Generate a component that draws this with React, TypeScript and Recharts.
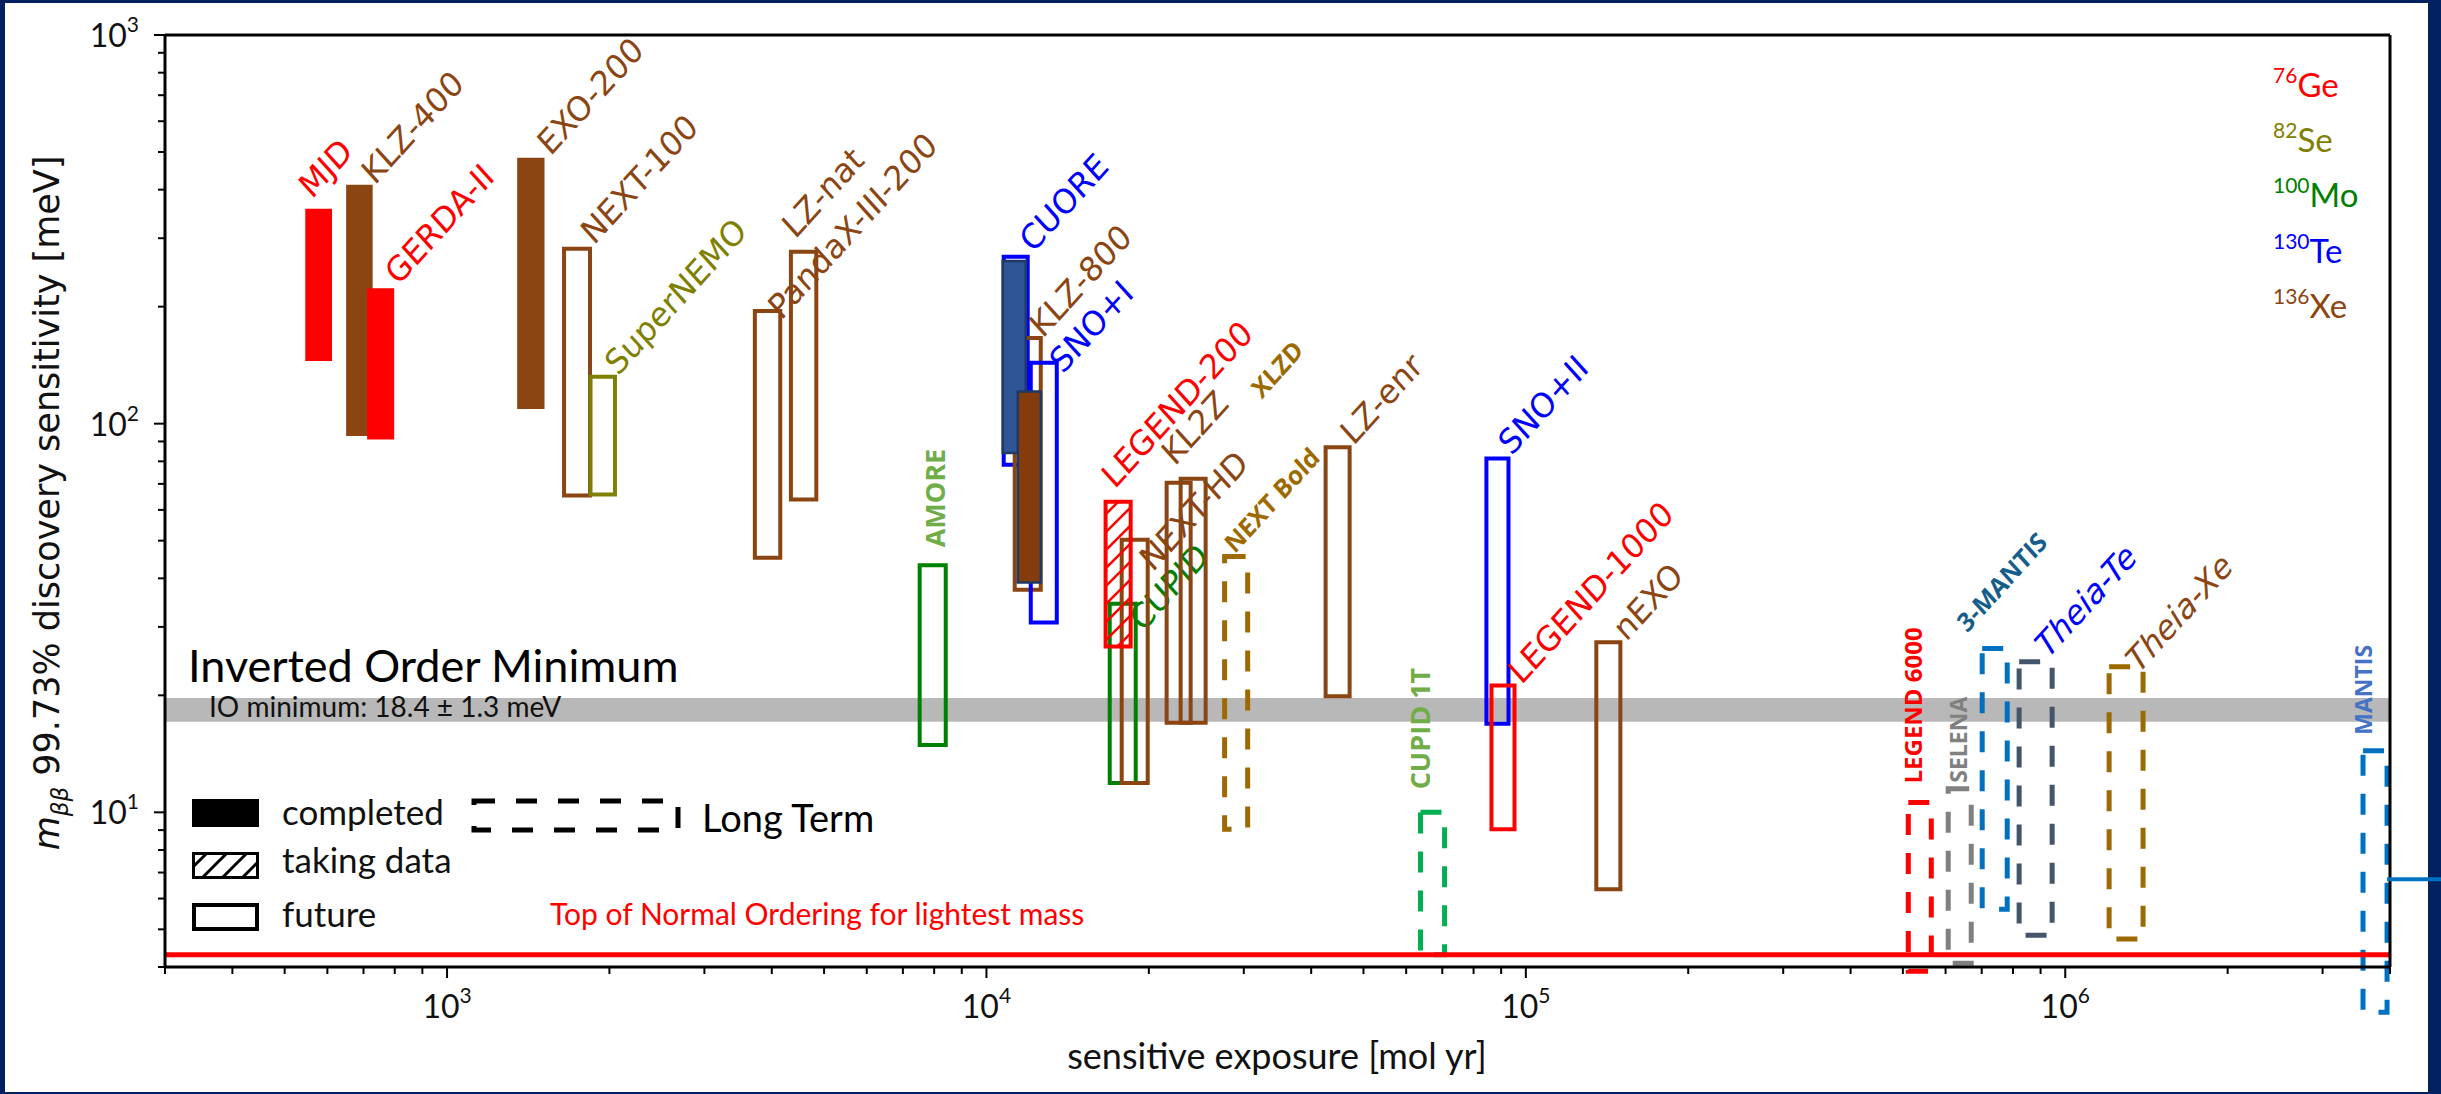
import React from "react";
import { ComposedChart, XAxis, YAxis, ReferenceArea, ReferenceLine } from "recharts";

const W = 2441;
const H = 1094;
const NAVY = "#002060";
const LABEL_FONT = "'DejaVu Sans', sans-serif";
const NOTE_FONT = "Lato, 'Open Sans', sans-serif";
const BOLD_FONT = "'Open Sans', 'Liberation Sans', sans-serif";

type Iso = "Ge" | "Se" | "Mo" | "Te" | "Xe";
interface Experiment {
  name: string;
  iso: Iso;
  lo: number; // exposure range [mol yr]
  hi: number;
  mLo: number; // sensitivity range [meV]
  mHi: number;
}

// finished experiments
const completed: Experiment[] = [
  { name: "MJD", iso: "Ge", lo: 546, hi: 612, mLo: 145, mHi: 357 },
  { name: "KLZ-400", iso: "Xe", lo: 650, hi: 728, mLo: 93, mHi: 412 },
  { name: "GERDA-II", iso: "Ge", lo: 711, hi: 798, mLo: 91, mHi: 223 },
  { name: "EXO-200", iso: "Xe", lo: 1349, hi: 1516, mLo: 109, mHi: 483 },
];

// final results, drawn on top of their projections
const finalResults: Experiment[] = [
  { name: "CUORE", iso: "Te", lo: 10720, hi: 11830, mLo: 84, mHi: 262 },
  { name: "KLZ-800", iso: "Xe", lo: 11430, hi: 12610, mLo: 39, mHi: 121 },
];

const takingData: Experiment[] = [
  { name: "LEGEND-200", iso: "Ge", lo: 16630, hi: 18510, mLo: 26.7, mHi: 63 },
];

const future: Experiment[] = [
  { name: "NEXT-100", iso: "Xe", lo: 1648, hi: 1841, mLo: 65.3, mHi: 282 },
  { name: "SuperNEMO", iso: "Se", lo: 1845, hi: 2048, mLo: 65.7, mHi: 132 },
  { name: "PandaX-III-200", iso: "Xe", lo: 3721, hi: 4147, mLo: 45.2, mHi: 195 },
  { name: "LZ-nat", iso: "Xe", lo: 4340, hi: 4837, mLo: 63.8, mHi: 277 },
  { name: "AMORE", iso: "Mo", lo: 7520, hi: 8405, mLo: 14.9, mHi: 43.2 },
  { name: "CUORE", iso: "Te", lo: 10765, hi: 11926, mLo: 78.4, mHi: 269 },
  { name: "KLZ-800", iso: "Xe", lo: 11283, hi: 12610, mLo: 37.4, mHi: 166 },
  { name: "SNO+I", iso: "Te", lo: 12083, hi: 13502, mLo: 30.8, mHi: 143.5 },
  { name: "CUPID", iso: "Mo", lo: 16925, hi: 18912, mLo: 11.9, mHi: 34.4 },
  { name: "NEXT-HD", iso: "Xe", lo: 17813, hi: 19906, mLo: 11.9, mHi: 50.3 },
  { name: "KL2Z", iso: "Xe", lo: 21580, hi: 23910, mLo: 17, mHi: 70.5 },
  { name: "XLZD", iso: "Xe", lo: 22910, hi: 25490, mLo: 17, mHi: 72.2 },
  { name: "LZ-enr", iso: "Xe", lo: 42540, hi: 47130, mLo: 19.9, mHi: 87 },
  { name: "SNO+II", iso: "Te", lo: 84510, hi: 92860, mLo: 16.9, mHi: 81.3 },
  { name: "LEGEND-1000", iso: "Ge", lo: 86350, hi: 95280, mLo: 9.04, mHi: 21.2 },
  { name: "nEXO", iso: "Xe", lo: 135100, hi: 149700, mLo: 6.34, mHi: 27.4 },
];

const longTerm: Experiment[] = [
  { name: "NEXT Bold", iso: "Xe", lo: 27640, hi: 30500, mLo: 9.04, mHi: 45.5 },
  { name: "CUPID 1T", iso: "Mo", lo: 63780, hi: 70680, mLo: 4.3, mHi: 10 },
  { name: "LEGEND 6000", iso: "Ge", lo: 511700, hi: 564500, mLo: 3.9, mHi: 10.6 },
  { name: "SELENA", iso: "Se", lo: 606800, hi: 669400, mLo: 4.09, mHi: 11.5 },
  { name: "3-MANTIS", iso: "Xe", lo: 701500, hi: 780600, mLo: 5.63, mHi: 26.4 },
  { name: "Theia-Te", iso: "Te", lo: 821300, hi: 945600, mLo: 4.83, mHi: 24.4 },
  { name: "Theia-Xe", iso: "Xe", lo: 1206000, hi: 1394000, mLo: 4.72, mHi: 23.7 },
  { name: "MANTIS", iso: "Xe", lo: 3565000, hi: 3950000, mLo: 3.06, mHi: 14.4 },
];

// inverted ordering floor and top of normal ordering [meV]
const IO_MIN = 18.4;
const IO_ERR = 1.3;
const NO_TOP = 4.3;
const MANTIS_LINK = 6.73;

const isotopes: Iso[] = ["Ge", "Se", "Mo", "Te", "Xe"];
const massNumbers = ["76", "82", "100", "130", "136"];

const X_DOMAIN: [number, number] = [300, 4e6];
const Y_DOMAIN: [number, number] = [4, 1000];
const MANTISSA = [2, 3, 4, 5, 6, 7, 8, 9];

const decadeTicks = (from: number, to: number) => {
  const out: number[] = [];
  for (let d = from; d <= to; d *= 10) {
    out.push(d);
    MANTISSA.forEach((m) => out.push(m * d));
  }
  return out;
};
const xTicks = decadeTicks(100, 1e6).filter((v) => v >= X_DOMAIN[0] && v <= X_DOMAIN[1]);
const yTicks = decadeTicks(1, 1000).filter((v) => v >= Y_DOMAIN[0] && v <= Y_DOMAIN[1]);

// every rectangle corner, so both log axes see real data
const allExperiments = [...completed, ...finalResults, ...takingData, ...future, ...longTerm];
const chartData = allExperiments.flatMap((e) => [
  { x: e.lo, y: e.mLo },
  { x: e.hi, y: e.mHi },
]);

const ISO_COLOR: Record<Iso, string> = {
  Ge: "#ff0000",
  Se: "#808000",
  Mo: "#008000",
  Te: "#0000ff",
  Xe: "#8b4513",
};

const FINAL_FILL: Record<string, string> = { CUORE: "#2f5597", "KLZ-800": "#843c0c" };

const DASH_COLOR: Record<string, string> = {
  "NEXT Bold": "#9c6a00",
  "CUPID 1T": "#00b050",
  "LEGEND 6000": "#ff0000",
  SELENA: "#808080",
  "3-MANTIS": "#0070c0",
  "Theia-Te": "#44546a",
  "Theia-Xe": "#9c6a00",
  MANTIS: "#0070c0",
};

interface LabelStyle {
  kind?: "diag" | "bold" | "vert";
  dx?: number;
  dy?: number;
  color?: string;
  italic?: boolean;
  size?: number;
}

// diagonal labels hang off the top-right corner, vertical ones off the top-left
const LABEL_STYLE: Record<string, LabelStyle> = {
  MJD: { dx: -20, dy: -9 },
  "KLZ-400": { dx: 2, dy: 1 },
  "GERDA-II": { dx: 4, dy: -2 },
  "EXO-200": { dx: 6, dy: -1 },
  "NEXT-100": { dx: 4, dy: -3 },
  SuperNEMO: { dx: 3, dy: 0 },
  "LZ-nat": { dx: -21, dy: -12 },
  "PandaX-III-200": { dx: 1, dy: 10 },
  CUORE: { dx: 5, dy: -3 },
  "KLZ-800": { dx: 2, dy: 1 },
  "SNO+I": { dx: 6, dy: 12 },
  "LEGEND-200": { dx: -16, dy: -12 },
  KL2Z: { dx: -16, dy: -16 },
  "NEXT-HD": { dx: 5, dy: 33 },
  CUPID: { dx: 7, dy: 29 },
  XLZD: { kind: "bold", dx: 56, dy: -79, color: "#9c6a00" },
  "NEXT Bold": { kind: "bold", dx: -13, dy: -2, color: "#9c6a00" },
  "LZ-enr": { dx: 4, dy: -1 },
  "SNO+II": { dx: 3, dy: -2 },
  "LEGEND-1000": { dx: 7, dy: 0 },
  nEXO: { dx: 6, dy: 0 },
  "3-MANTIS": { kind: "bold", dx: -40, dy: -15, color: "#155e8c" },
  "Theia-Te": { dx: -4, dy: -3, italic: true, color: "#0000ff" },
  "Theia-Xe": { dx: -4, dy: 7, italic: true, color: "#8b4513" },
  AMORE: { kind: "vert", dx: 25, dy: -18, color: "#70ad47", size: 27 },
  "CUPID 1T": { kind: "vert", dx: 10, dy: -23, color: "#70ad47", size: 27 },
  "LEGEND 6000": { kind: "vert", dx: 14, dy: -19, color: "#ff0000", size: 24 },
  SELENA: { kind: "vert", dx: 19, dy: -6, color: "#808080", size: 23 },
  MANTIS: { kind: "vert", dx: 9, dy: -16, color: "#4472c4", size: 23 },
};

const makeLabel = (name: string, baseColor: string) => (props: any) => {
  const vb = props.viewBox;
  if (!vb || !Number.isFinite(vb.x) || !Number.isFinite(vb.y)) return null;
  const s = LABEL_STYLE[name] ?? {};
  const color = s.color ?? baseColor;
  if (s.kind === "vert") {
    const x = vb.x + (s.dx ?? 10);
    const y = vb.y + (s.dy ?? -18);
    return (
      <text
        transform={`translate(${x} ${y}) rotate(-90)`}
        fontFamily={BOLD_FONT}
        fontWeight={700}
        fontSize={s.size ?? 24}
        fill={color}
      >
        {name}
      </text>
    );
  }
  const x = vb.x + vb.width + (s.dx ?? 4);
  const y = vb.y + (s.dy ?? -1);
  const bold = s.kind === "bold";
  return (
    <text
      transform={`translate(${x} ${y}) scale(1 1.1) rotate(-45)`}
      fontFamily={bold ? BOLD_FONT : LABEL_FONT}
      fontWeight={bold ? 700 : 400}
      fontStyle={s.italic ? "italic" : "normal"}
      fontSize={bold ? 24 : 31}
      fill={color}
    >
      {name}
    </text>
  );
};

const XTick = (props: any) => {
  const { x, y, payload } = props;
  const lg = Math.log10(payload.value);
  const major = Math.abs(lg - Math.round(lg)) < 1e-6;
  return (
    <g>
      <line x1={x} y1={y} x2={x} y2={y + (major ? 11 : 7)} stroke="#000" strokeWidth={2} />
      {major && (
        <text x={x} y={y + 51} textAnchor="middle" fontFamily={NOTE_FONT} fontSize={32} fill="#111">
          10
          <tspan dy={-15} fontSize={21}>
            {Math.round(lg)}
          </tspan>
        </text>
      )}
    </g>
  );
};

const YTick = (props: any) => {
  const { x, y, payload } = props;
  const lg = Math.log10(payload.value);
  const major = Math.abs(lg - Math.round(lg)) < 1e-6;
  return (
    <g>
      <line x1={x} y1={y} x2={x - (major ? 11 : 7)} y2={y} stroke="#000" strokeWidth={2} />
      {major && (
        <text x={x - 26} y={y + 12} textAnchor="end" fontFamily={NOTE_FONT} fontSize={32} fill="#111">
          10
          <tspan dy={-15} fontSize={21}>
            {Math.round(lg)}
          </tspan>
        </text>
      )}
    </g>
  );
};

const area = (e: Experiment, key: string, props: Record<string, any>, withLabel = true) => (
  <ReferenceArea
    key={key}
    x1={e.lo}
    x2={e.hi}
    y1={e.mLo}
    y2={e.mHi}
    ifOverflow="visible"
    label={withLabel ? makeLabel(e.name, props.stroke && props.stroke !== "none" ? props.stroke : ISO_COLOR[e.iso]) : undefined}
    {...props}
  />
);

export default function App() {
  return (
    <div style={{ position: "absolute", left: 0, top: 0, width: W, height: H, background: NAVY }}>
      <svg width={0} height={0} style={{ position: "absolute" }}>
        <defs>
          <pattern id="hatchRed" patternUnits="userSpaceOnUse" width={18} height={18}>
            <path d="M-4,4 l8,-8 M0,18 l18,-18 M14,22 l8,-8" stroke="#ff0000" strokeWidth={2.5} />
          </pattern>
          <pattern id="hatchBlack" patternUnits="userSpaceOnUse" width={20} height={20}>
            <path d="M-4,4 l8,-8 M0,20 l20,-20 M16,24 l8,-8" stroke="#000" strokeWidth={3} />
          </pattern>
        </defs>
      </svg>
      <div style={{ position: "absolute", left: 5, top: 3, width: 2423, height: 1089, background: "#fff" }} />

      {/* annotations and legends */}
      <svg width={W} height={H} style={{ position: "absolute", left: 0, top: 0 }}>
        <text
          transform="translate(59 503) rotate(-90)"
          textAnchor="middle"
          fontFamily={LABEL_FONT}
          fontSize={35}
          fill="#111"
        >
          <tspan fontStyle="italic">m</tspan>
          <tspan fontStyle="italic" fontSize={23} dy={9}>
            ββ
          </tspan>
          <tspan dy={-9}> 99.73% discovery sensitivity [meV]</tspan>
        </text>
        <text x={1277} y={1069} textAnchor="middle" fontFamily={NOTE_FONT} fontSize={36} fill="#111">
          sensitive exposure [mol yr]
        </text>

        <text x={188} y={682} fontFamily={NOTE_FONT} fontSize={45} fill="#000">
          Inverted Order Minimum
        </text>

        <rect x={192} y={799} width={67} height={28} fill="#000" />
        <rect x={193.5} y={853.5} width={64} height={24} fill="url(#hatchBlack)" stroke="#000" strokeWidth={3} />
        <rect x={194} y={905} width={63} height={24} fill="none" stroke="#000" strokeWidth={4} />
        <text x={282} y={825} fontFamily={NOTE_FONT} fontSize={35} fill="#111">completed</text>
        <text x={282} y={873} fontFamily={NOTE_FONT} fontSize={35} fill="#111">taking data</text>
        <text x={282} y={927} fontFamily={NOTE_FONT} fontSize={35} fill="#111">future</text>
        <rect x={474} y={801} width={204} height={29} fill="none" stroke="#000" strokeWidth={5} strokeDasharray="21 21" />
        <text x={702} y={832} fontFamily={NOTE_FONT} fontSize={38} fill="#000">Long Term</text>

        <text x={550} y={925} fontFamily={NOTE_FONT} fontSize={30} fill="#ff0000">
          Top of Normal Ordering for lightest mass
        </text>

        {isotopes.map((iso, i) => (
          <text key={iso} x={2273} y={97 + i * 55.2} fontFamily={NOTE_FONT} fill={ISO_COLOR[iso]}>
            <tspan fontSize={21} dy={-14}>
              {massNumbers[i]}
            </tspan>
            <tspan fontSize={33} dy={14}>
              {iso}
            </tspan>
          </text>
        ))}
      </svg>

      <div style={{ position: "absolute", left: 0, top: 0 }}>
        <ComposedChart
          width={W}
          height={H}
          data={chartData}
          margin={{ top: 35, right: 51, bottom: 126, left: 164 }}
        >
          <XAxis
            dataKey="x"
            type="number"
            scale="log"
            domain={X_DOMAIN}
            allowDataOverflow
            ticks={xTicks}
            interval={0}
            height={1}
            tickSize={0}
            tickMargin={0}
            tickLine={false}
            tick={<XTick />}
            axisLine={{ stroke: "#000", strokeWidth: 3 }}
          />
          <YAxis
            dataKey="y"
            type="number"
            scale="log"
            domain={Y_DOMAIN}
            allowDataOverflow
            ticks={yTicks}
            interval={0}
            width={1}
            tickSize={0}
            tickMargin={0}
            tickLine={false}
            tick={<YTick />}
            axisLine={{ stroke: "#000", strokeWidth: 3 }}
          />

          <ReferenceArea
            y1={IO_MIN - IO_ERR}
            y2={IO_MIN + IO_ERR}
            fill="#b8b8b8"
            fillOpacity={1}
            stroke="none"
            ifOverflow="visible"
            label={(p: any) =>
              p.viewBox && Number.isFinite(p.viewBox.x) ? (
                <text
                  x={p.viewBox.x + 44}
                  y={p.viewBox.y + p.viewBox.height - 5}
                  fontFamily={NOTE_FONT}
                  fontSize={28}
                  fill="#111"
                >
                  {`IO minimum: ${IO_MIN} ± ${IO_ERR} meV`}
                </text>
              ) : null
            }
          />

          {future.map((e, i) =>
            area(e, `f${i}`, { fill: "none", stroke: ISO_COLOR[e.iso], strokeWidth: 4 })
          )}
          {completed.map((e, i) =>
            area(e, `c${i}`, { fill: ISO_COLOR[e.iso], fillOpacity: 1, stroke: "none" }, true)
          )}
          {finalResults.map((e, i) =>
            area(e, `r${i}`, { fill: FINAL_FILL[e.name], fillOpacity: 1, stroke: "#1f3864", strokeWidth: 2.5 }, false)
          )}
          {takingData.map((e, i) =>
            area(e, `t${i}`, { fill: "url(#hatchRed)", fillOpacity: 1, stroke: ISO_COLOR[e.iso], strokeWidth: 4 })
          )}
          {longTerm.map((e, i) =>
            area(e, `l${i}`, {
              fill: "none",
              stroke: DASH_COLOR[e.name] ?? ISO_COLOR[e.iso],
              strokeWidth: 5,
              strokeDasharray: "21 18",
            })
          )}

          <ReferenceLine y={NO_TOP} stroke="#ff0000" strokeWidth={5} ifOverflow="visible" />
          <ReferenceLine y={Y_DOMAIN[1]} stroke="#000" strokeWidth={3} />
          <ReferenceLine x={X_DOMAIN[1]} stroke="#000" strokeWidth={3} />
          <ReferenceLine
            segment={[
              { x: longTerm[7].hi, y: MANTIS_LINK },
              { x: 1e7, y: MANTIS_LINK },
            ]}
            stroke="#0070c0"
            strokeWidth={4}
            ifOverflow="visible"
          />
        </ComposedChart>
      </div>
    </div>
  );
}
